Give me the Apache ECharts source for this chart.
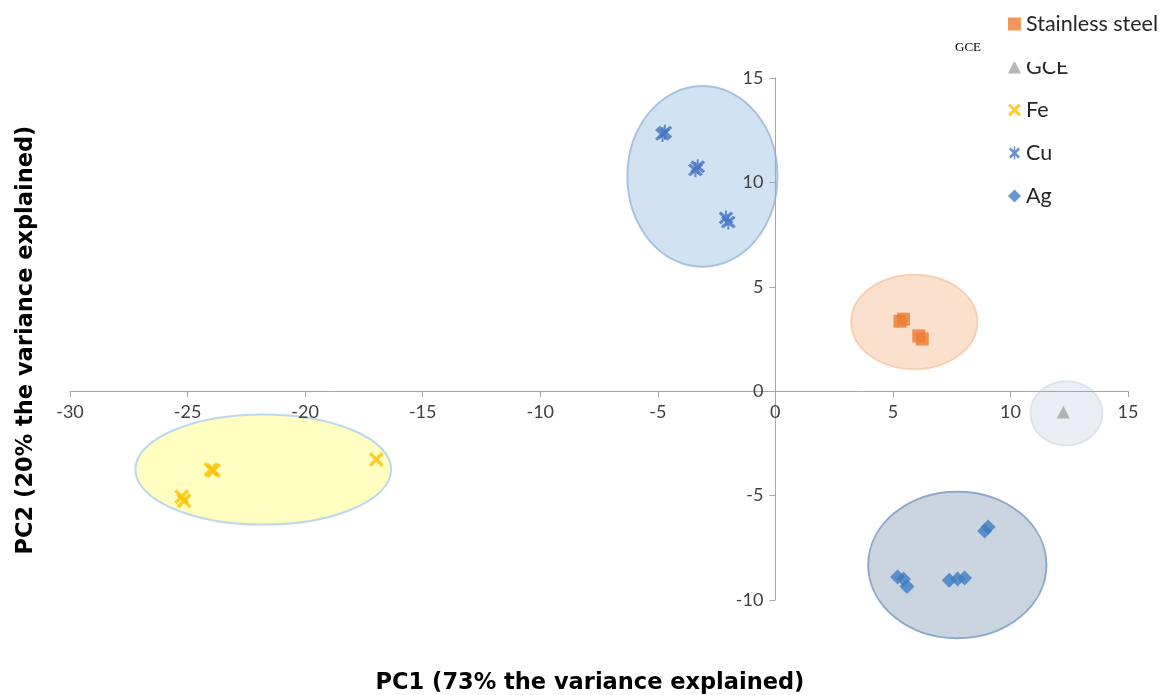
<!DOCTYPE html>
<html>
<head>
<meta charset="utf-8">
<script src="https://cdn.jsdelivr.net/npm/echarts@6/dist/echarts.min.js"></script>
<style>html,body{margin:0;padding:0;background:#fff;}#c{width:1161px;height:695px;}</style>
</head>
<body>
<div id="c"></div>
<script>
// ---- data ----
const xTicks = [-30, -25, -20, -15, -10, -5, 0, 5, 10, 15];
const yTicks = [-10, -5, 0, 5, 10, 15];
const stainless = [[5.3, 3.35], [5.45, 3.45], [6.1, 2.65], [6.25, 2.5]];
const gce = [[12.25, -1.0]];
const fe = [[-25.25, -5.05], [-25.15, -5.25], [-24.0, -3.75], [-23.9, -3.8], [-16.97, -3.27]];
const cu = [[-4.8, 12.3], [-4.7, 12.4], [-3.4, 10.6], [-3.3, 10.75], [-2.1, 8.3], [-2.0, 8.1]];
const ag = [[8.9, -6.7], [9.05, -6.5], [5.2, -8.9], [5.45, -9.0], [5.6, -9.35], [7.4, -9.05], [7.75, -9.0], [8.05, -8.95]];
// cluster ellipses: [centerX, centerY, radiusX, radiusY]
const ellStainless = [[5.91, 3.32, 2.68, 2.26]];
const ellGce = [[12.38, -1.06, 1.53, 1.54]];
const ellFe = [[-21.78, -3.75, 5.44, 2.64]];
const ellCu = [[-3.1, 10.29, 3.19, 4.33]];
const ellAg = [[7.74, -8.32, 3.79, 3.51]];

const xSym = 'path://M2,0L6,4L10,0L12,2L8,6L12,10L10,12L6,8L2,12L0,10L4,6L0,2Z';
const astSym = 'path://M2,0L6,4L10,0L12,2L8,6L12,10L10,12L6,8L2,12L0,10L4,6L0,2Z M5.2,-1L6.8,-1L6.8,13L5.2,13Z';

function ellipseSeries(data, fill, stroke) {
  return {
    type: 'custom', silent: true, z: 1, legendHoverLink: false,
    data: data,
    encode: { x: 0, y: 1 },
    renderItem: function (params, api) {
      const c = api.coord([api.value(0), api.value(1)]);
      const s = api.size([api.value(2), api.value(3)]);
      return {
        type: 'ellipse',
        shape: { cx: c[0], cy: c[1], rx: s[0], ry: s[1] },
        style: { fill: fill, stroke: stroke, lineWidth: 2 }
      };
    }
  };
}

const W = 1161, H = 695;
const G = { left: 70, right: 33, top: 78, bottom: 95 };
const xMin = xTicks[0], xMax = xTicks[xTicks.length - 1];
const yMin = yTicks[0], yMax = yTicks[yTicks.length - 1];
const gw = W - G.left - G.right, gh = H - G.top - G.bottom;
// shift axes so they cross at zero (labels follow the line)
const yAxisOffset = -gw * (0 - xMin) / (xMax - xMin);
const xAxisOffset = -gh * (0 - yMin) / (yMax - yMin);

const chart = echarts.init(document.getElementById('c'));
const axisLabelStyle = { color: '#404040', fontSize: 18, fontFamily: 'Lato, "Open Sans", sans-serif' };
chart.setOption({
  animation: false,
  grid: { left: G.left, right: G.right, top: G.top, bottom: G.bottom, containLabel: false },
  xAxis: {
    type: 'value', min: xMin, max: xMax, interval: 5, position: 'bottom', offset: xAxisOffset, z: 10,
    axisLine: { onZero: false, lineStyle: { color: '#a6a6a6', width: 1 } },
    axisTick: { show: true, length: 6, lineStyle: { color: '#a6a6a6' } },
    axisLabel: Object.assign({ margin: 12 }, axisLabelStyle),
    splitLine: { show: false }
  },
  yAxis: {
    type: 'value', min: yMin, max: yMax, interval: 5, position: 'left', offset: yAxisOffset, z: 10,
    axisLine: { onZero: false, lineStyle: { color: '#a6a6a6', width: 1 } },
    axisTick: { show: true, length: 6, lineStyle: { color: '#a6a6a6' } },
    axisLabel: Object.assign({ margin: 12 }, axisLabelStyle),
    splitLine: { show: false }
  },
  legend: {
    orient: 'vertical', left: 1003, top: 8, itemGap: 21, itemWidth: 13, itemHeight: 13,
    textStyle: { fontSize: 21.5, color: '#262626', fontFamily: 'Lato, "Open Sans", sans-serif' },
    data: ['Stainless steel', 'GCE', 'Fe', 'Cu', 'Ag']
  },
  series: [
    ellipseSeries(ellCu, 'rgba(189,215,238,0.7)', '#a9c2dc'),
    ellipseSeries(ellStainless, 'rgba(248,203,173,0.6)', '#f8cfb3'),
    ellipseSeries(ellGce, 'rgba(222,227,236,0.6)', '#dfe4ec'),
    ellipseSeries(ellFe, 'rgba(255,255,170,0.75)', '#bdd7ee'),
    ellipseSeries(ellAg, 'rgba(173,190,208,0.65)', '#8eaacb'),
    { name: 'Stainless steel', type: 'scatter', z: 3, data: stainless, symbol: 'rect', symbolSize: 13, itemStyle: { color: '#ed7d31' } },
    { name: 'GCE', type: 'scatter', z: 3, data: gce, symbol: 'triangle', symbolSize: 13, itemStyle: { color: '#a5a5a5' } },
    { name: 'Fe', type: 'scatter', z: 3, data: fe, symbol: xSym, symbolSize: 15, itemStyle: { color: '#ffc000' } },
    { name: 'Cu', type: 'scatter', z: 3, data: cu, symbol: astSym, symbolSize: 15, itemStyle: { color: '#4472c4' } },
    { name: 'Ag', type: 'scatter', z: 3, data: ag, symbol: 'diamond', symbolSize: 15, itemStyle: { color: '#3f7cc2' } }
  ],
  graphic: [
    { type: 'rect', z: 100, shape: { x: 996, y: 45, width: 90, height: 17 }, style: { fill: '#fff' } },
    { type: 'text', z: 101, left: 955, top: 41, style: { text: 'GCE', fontSize: 13, fill: '#000', fontFamily: '"Liberation Serif", serif' } },
    { type: 'text', z: 101, x: 590, y: 683, style: { text: 'PC1 (73% the variance explained)', fontSize: 22.5, fontWeight: 'bold', fill: '#000', fontFamily: '"DejaVu Sans", sans-serif', align: 'center', verticalAlign: 'middle' } },
    { type: 'text', z: 101, x: 26, y: 340, rotation: Math.PI / 2, style: { text: 'PC2 (20% the variance explained)', fontSize: 22.5, fontWeight: 'bold', fill: '#000', fontFamily: '"DejaVu Sans", sans-serif', align: 'center', verticalAlign: 'middle' } }
  ]
});
</script>
</body>
</html>
